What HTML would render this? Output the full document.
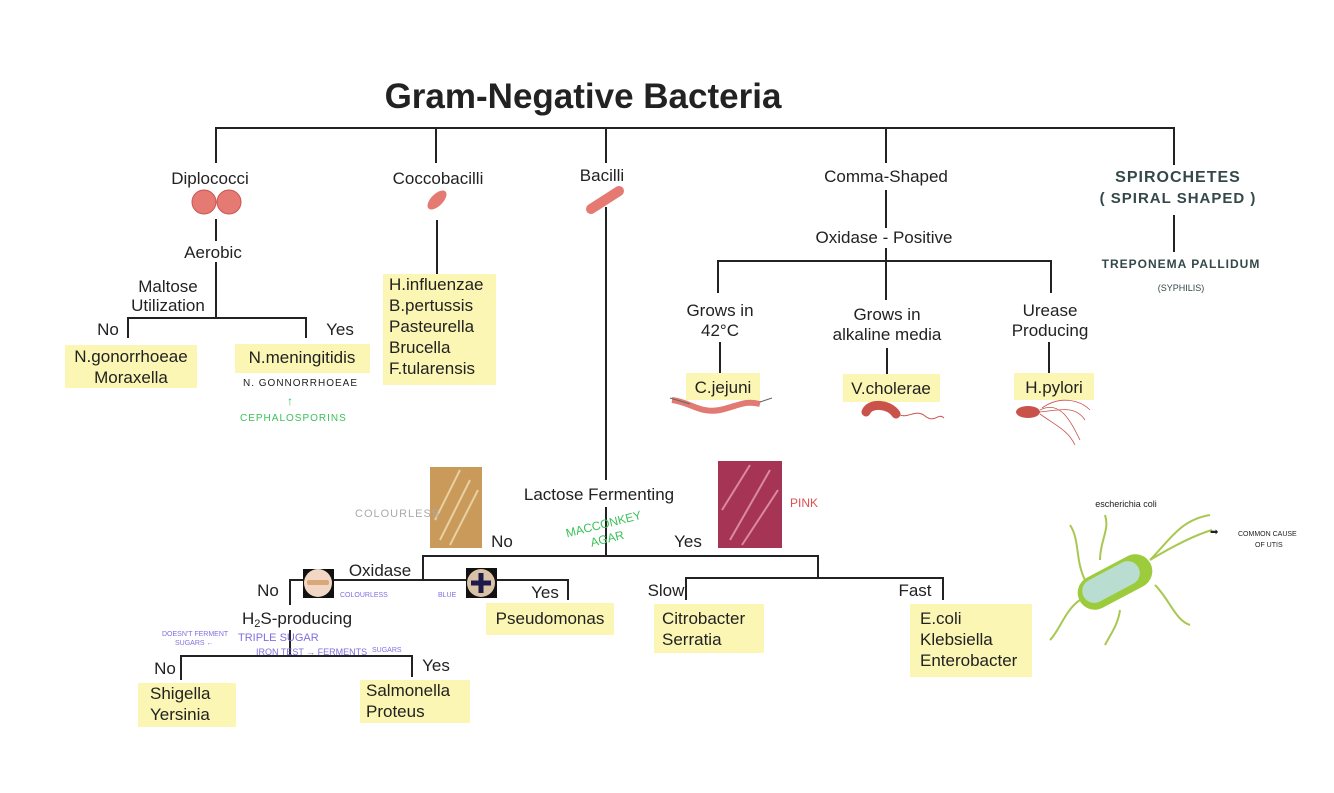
<!DOCTYPE html>
<html><head><meta charset="utf-8"><style>
html,body{margin:0;padding:0;background:#fff;}
svg{display:block;}
text{font-family:"Liberation Sans",sans-serif;fill:#222;}
.t{font-size:17px;}
.h{font-size:10px;letter-spacing:1px;}
</style></head><body>
<svg width="1334" height="793" viewBox="0 0 1334 793" xmlns="http://www.w3.org/2000/svg">
<rect width="1334" height="793" fill="#fff"/>
<text x="583" y="108" text-anchor="middle" font-size="35" font-weight="bold" fill="#111">Gram-Negative Bacteria</text>
<g stroke="#222" stroke-width="2" fill="none">
<path d="M216 163V128H1174V165M436 128V163M606 128V163M886 128V163"/>
<path d="M216 219V241M216 262V318M128 338V318H306V338"/>
<path d="M437 220V275"/>
<path d="M606 207V480M606 507V556M423 580V556H818V578"/>
<path d="M290 605V580H568V600M290 630V656M181 680V656H412V677"/>
<path d="M686 600V578H943V600"/>
<path d="M886 190V228M886 248V300M718 293V261H1051V293M720 342V376M887 348V376M1049 342V376"/>
<path d="M1174 215V252"/>
</g>
<g fill="#fbf6b3">
<rect x="65" y="345" width="132" height="43"/>
<rect x="235" y="344" width="135" height="29"/>
<rect x="383" y="274" width="113" height="111"/>
<rect x="486" y="603" width="128" height="32"/>
<rect x="138" y="683" width="98" height="44"/>
<rect x="360" y="680" width="110" height="43"/>
<rect x="654" y="604" width="110" height="49"/>
<rect x="910" y="604" width="122" height="73"/>
<rect x="686" y="373" width="74" height="27"/>
<rect x="843" y="374" width="97" height="28"/>
<rect x="1014" y="373" width="80" height="27"/>
</g>
<g class="t">
<text x="210" y="184" text-anchor="middle">Diplococci</text>
<text x="213" y="258" text-anchor="middle">Aerobic</text>
<text x="168" y="292" text-anchor="middle">Maltose</text>
<text x="168" y="311" text-anchor="middle">Utilization</text>
<text x="108" y="335" text-anchor="middle">No</text>
<text x="340" y="335" text-anchor="middle">Yes</text>
<text x="131" y="362" text-anchor="middle">N.gonorrhoeae</text>
<text x="131" y="383" text-anchor="middle">Moraxella</text>
<text x="302" y="363" text-anchor="middle">N.meningitidis</text>
<text x="438" y="184" text-anchor="middle">Coccobacilli</text>
<text x="389" y="290">H.influenzae</text>
<text x="389" y="311">B.pertussis</text>
<text x="389" y="332">Pasteurella</text>
<text x="389" y="353">Brucella</text>
<text x="389" y="374">F.tularensis</text>
<text x="602" y="181" text-anchor="middle">Bacilli</text>
<text x="599" y="500" text-anchor="middle">Lactose Fermenting</text>
<text x="502" y="547" text-anchor="middle">No</text>
<text x="688" y="547" text-anchor="middle">Yes</text>
<text x="380" y="576" text-anchor="middle">Oxidase</text>
<text x="268" y="596" text-anchor="middle">No</text>
<text x="545" y="598" text-anchor="middle">Yes</text>
<text x="550" y="624" text-anchor="middle">Pseudomonas</text>
<text x="297" y="624" text-anchor="middle">H<tspan font-size="11" dy="3">2</tspan><tspan dy="-3">S-producing</tspan></text>
<text x="165" y="674" text-anchor="middle">No</text>
<text x="436" y="671" text-anchor="middle">Yes</text>
<text x="150" y="699">Shigella</text>
<text x="150" y="720">Yersinia</text>
<text x="366" y="696">Salmonella</text>
<text x="366" y="717">Proteus</text>
<text x="666" y="596" text-anchor="middle">Slow</text>
<text x="915" y="596" text-anchor="middle">Fast</text>
<text x="662" y="624">Citrobacter</text>
<text x="662" y="645">Serratia</text>
<text x="920" y="624">E.coli</text>
<text x="920" y="645">Klebsiella</text>
<text x="920" y="666">Enterobacter</text>
<text x="886" y="182" text-anchor="middle">Comma-Shaped</text>
<text x="884" y="243" text-anchor="middle">Oxidase - Positive</text>
<text x="720" y="316" text-anchor="middle">Grows in</text>
<text x="720" y="336" text-anchor="middle">42°C</text>
<text x="887" y="320" text-anchor="middle">Grows in</text>
<text x="887" y="340" text-anchor="middle">alkaline media</text>
<text x="1050" y="316" text-anchor="middle">Urease</text>
<text x="1050" y="336" text-anchor="middle">Producing</text>
<text x="723" y="393" text-anchor="middle">C.jejuni</text>
<text x="891" y="394" text-anchor="middle">V.cholerae</text>
<text x="1054" y="393" text-anchor="middle">H.pylori</text>
</g>
<circle cx="204" cy="202" r="12" fill="#e47a72" stroke="#c55" stroke-width="1"/>
<circle cx="229" cy="202" r="12" fill="#e47a72" stroke="#c55" stroke-width="1"/>
<ellipse cx="437" cy="200" rx="12" ry="6" transform="rotate(-45 437 200)" fill="#e47a72"/>
<line x1="591" y1="209" x2="619" y2="191" stroke="#e47a72" stroke-width="10" stroke-linecap="round"/>
<path d="M672 400 C690 402 700 414 720 410 C738 406 745 400 760 404" stroke="#e07a72" stroke-width="6" fill="none"/>
<path d="M670 398 L690 404 M760 402 L772 398" stroke="#666" stroke-width="1" fill="none"/>
<path d="M866 412 C870 402 890 404 896 414" stroke="#c9534b" stroke-width="9" fill="none" stroke-linecap="round"/>
<path d="M898 414 C908 420 915 408 925 416 S 938 412 944 418" stroke="#c9534b" stroke-width="1" fill="none"/>
<ellipse cx="1028" cy="412" rx="12" ry="6" fill="#c9534b"/>
<path d="M1040 410 C1060 400 1070 420 1080 440 M1040 412 C1060 410 1075 405 1085 420 M1040 414 C1055 425 1068 430 1075 445 M1042 408 C1060 395 1080 400 1090 410" stroke="#c9534b" stroke-width="0.8" fill="none"/>
<rect x="430" y="467" width="52" height="81" fill="#c99a5a"/>
<path d="M440 540 L470 480 M450 545 L478 490 M435 520 L460 470" stroke="#e8d0a0" stroke-width="2"/>
<rect x="718" y="461" width="64" height="87" fill="#a53455"/>
<path d="M730 540 L770 470 M742 545 L778 490 M722 510 L750 465" stroke="#d98aa0" stroke-width="2"/>
<rect x="303" y="569" width="31" height="29" fill="#111"/>
<circle cx="318" cy="583" r="14" fill="#f2d8c4"/>
<rect x="307" y="580" width="22" height="5" rx="2" fill="#d9a878"/>
<rect x="466" y="568" width="31" height="30" fill="#111"/>
<circle cx="481" cy="583" r="14" fill="#d9c2a6"/>
<path d="M481 573V593M471 583H491" stroke="#1e1a4a" stroke-width="5"/>
<text x="243" y="386" class="h" fill="#333">N. GONNORRHOEAE</text>
<text x="290" y="405" text-anchor="middle" font-size="12" style="fill:#3cc05a">↑</text>
<text x="240" y="421" class="h" style="fill:#3cc05a">CEPHALOSPORINS</text>
<text x="355" y="517" font-size="11" letter-spacing="1" style="fill:#aaa">COLOURLESS</text>
<text x="790" y="507" font-size="12" style="fill:#e05050">PINK</text>
<g transform="rotate(-14 605 530)"><text x="605" y="528" text-anchor="middle" font-size="12" style="fill:#3cc05a">MACCONKEY</text><text x="605" y="543" text-anchor="middle" font-size="12" style="fill:#3cc05a">AGAR</text></g>
<g font-size="7">
<text x="340" y="597" style="fill:#7f6fe0">COLOURLESS</text>
<text x="438" y="597" style="fill:#7f6fe0">BLUE</text>
<text x="162" y="636" style="fill:#7f6fe0">DOESN'T FERMENT</text>
<text x="175" y="645" style="fill:#7f6fe0">SUGARS ←</text>
<text x="238" y="641" font-size="11" style="fill:#7f6fe0">TRIPLE SUGAR</text>
<text x="256" y="655" font-size="9" style="fill:#7f6fe0">IRON TEST → FERMENTS</text>
<text x="372" y="652" style="fill:#7f6fe0">SUGARS</text>
</g>
<text x="1178" y="182" text-anchor="middle" font-size="16" font-weight="bold" letter-spacing="1" style="fill:#34484a">SPIROCHETES</text>
<text x="1178" y="203" text-anchor="middle" font-size="15" font-weight="bold" letter-spacing="1" style="fill:#34484a">( SPIRAL  SHAPED )</text>
<text x="1181" y="268" text-anchor="middle" font-size="12" font-weight="bold" letter-spacing="1" style="fill:#34484a">TREPONEMA  PALLIDUM</text>
<text x="1181" y="291" text-anchor="middle" font-size="9" style="fill:#34484a">(SYPHILIS)</text>
<text x="1126" y="507" text-anchor="middle" font-size="9" fill="#333">escherichia coli</text>
<g stroke="#a8c850" fill="none" stroke-width="2">
<path d="M1150 560 C1170 540 1180 520 1210 515 M1150 560 C1175 545 1195 535 1212 530 M1085 580 C1075 560 1080 540 1070 525 M1100 560 C1100 540 1110 530 1105 515 M1080 600 C1065 610 1060 630 1050 640 M1155 585 C1170 600 1175 620 1190 625 M1120 610 C1118 625 1110 635 1105 645"/>
</g>
<rect x="1075" y="565" width="80" height="34" rx="17" transform="rotate(-28 1115 582)" fill="#9ccc3c"/>
<rect x="1080" y="570" width="62" height="24" rx="12" transform="rotate(-28 1111 582)" fill="#b9ddd0"/>
<text x="1210" y="535" font-size="10" fill="#111">➡</text>
<text x="1238" y="536" font-size="7" fill="#222">COMMON CAUSE</text>
<text x="1255" y="547" font-size="7" fill="#222">OF UTIS</text>
</svg>
</body></html>
